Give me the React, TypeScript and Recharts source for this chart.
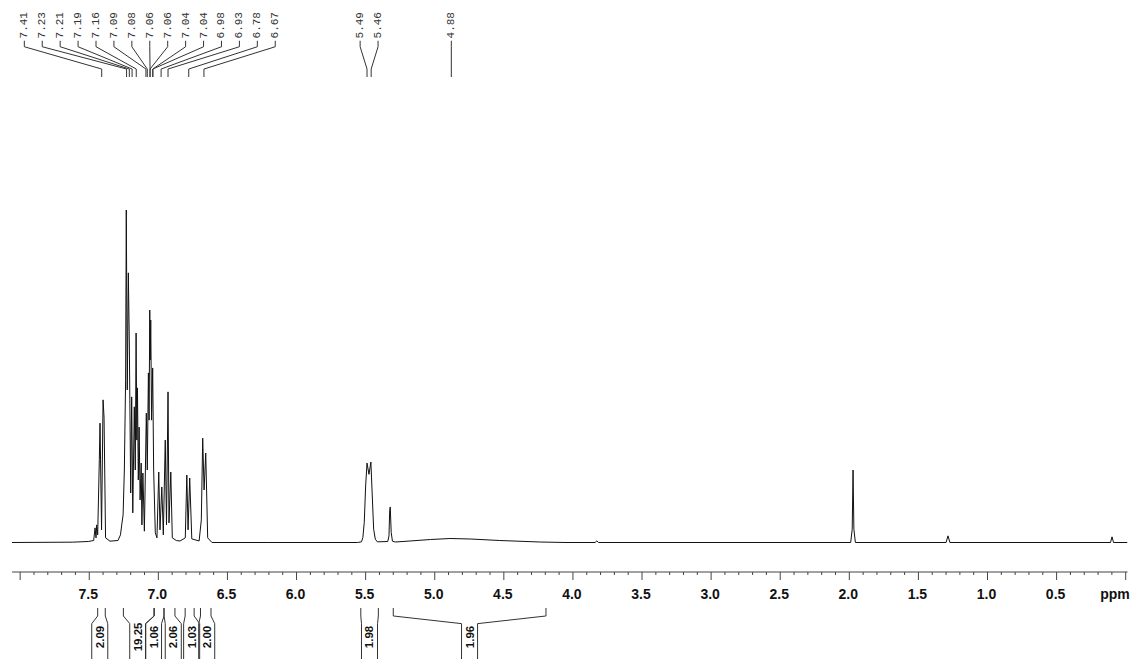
import { LineChart, Line, XAxis, YAxis, ReferenceLine, ReferenceDot } from 'recharts';

// 1H spectrum: [ppm, relative intensity] (tallest line = 100)
const aromatic: [number, number][] = [
  [8.059, 0], [7.62, 0.1], [7.508, 0.3], [7.468, 0.6], [7.458, 4.4], [7.451, 1.4],
  [7.446, 5.3], [7.439, 2.3], [7.427, 25.0], [7.422, 35.9], [7.411, 3.8], [7.4, 42.9],
  [7.393, 37.7], [7.382, 1.4], [7.35, 0.4], [7.292, 0.6], [7.274, 2.3], [7.265, 5.3],
  [7.255, 8.3], [7.246, 21.8], [7.237, 48.9], [7.232, 100], [7.225, 45.9], [7.217, 81.1],
  [7.21, 60.0], [7.2, 14.9], [7.193, 43.8], [7.185, 8.9], [7.174, 40.8], [7.167, 21.8],
  [7.161, 63.0], [7.156, 30.8], [7.151, 46.5], [7.145, 18.8], [7.139, 34.7], [7.132, 12.8],
  [7.124, 23.9], [7.119, 5.3], [7.112, 20.9], [7.101, 3.4], [7.087, 38.9], [7.08, 21.8],
  [7.072, 51.0], [7.067, 36.8], [7.062, 69.9], [7.059, 54.9], [7.055, 66.9], [7.049, 36.8],
  [7.041, 52.5], [7.034, 21.8], [7.022, 2.9], [7.01, 1.4], [6.997, 21.2], [6.988, 3.8],
  [6.975, 16.7], [6.964, 2.3], [6.95, 30.8], [6.941, 5.3], [6.93, 45.3], [6.923, 5.9],
  [6.91, 21.2], [6.899, 1.4], [6.87, 0.6], [6.843, 0.45], [6.805, 1.4], [6.794, 20.3],
  [6.785, 3.8], [6.773, 19.4], [6.758, 1.1], [6.705, 0.45], [6.689, 6.8], [6.679, 31.4],
  [6.669, 15.8], [6.657, 26.9], [6.643, 1.4], [6.612, 0],
];

const olefinic: [number, number][] = [
  [6.2, 0], [5.56, 0], [5.53, 0.2], [5.52, 1.5], [5.51, 6.0], [5.5, 17.0], [5.49, 23.9],
  [5.476, 20.5], [5.462, 24.2], [5.452, 14.0], [5.442, 4.0], [5.43, 1.0], [5.415, 0.2],
  [5.34, 0.3], [5.331, 2.0], [5.326, 9.5], [5.322, 10.7], [5.315, 3.0], [5.306, 0.4],
];

const broad: [number, number][] = [
  [5.286, 0.15], [5.18, 0.45], [5.03, 0.9], [4.89, 1.2], [4.74, 1.05], [4.53, 0.6],
  [4.24, 0.15], [4.05, 0],
];

const upfield: [number, number][] = [
  [3.84, 0], [3.827, 0.5], [3.815, 0], [1.99, 0], [1.979, 4.0], [1.973, 21.8], [1.967, 4.0],
  [1.956, 0], [1.3, 0], [1.286, 2.0], [1.272, 0], [0.11, 0], [0.099, 1.7], [0.088, 0],
  [-0.013, 0],
];

const spectrum = [...aromatic, ...olefinic, ...broad, ...upfield].map(([ppm, intensity]) => ({
  ppm,
  intensity,
}));

// peak picking, one array per fan of labels
const aromaticPeaks = [7.41, 7.23, 7.21, 7.19, 7.16, 7.09, 7.08, 7.06, 7.06, 7.04, 7.04, 6.98, 6.93, 6.78, 6.67];
const olefinicPeaks = [5.49, 5.46];
const broadPeaks = [4.88];

// integrals
const integralFrom = [7.439, 7.253, 7.029, 6.959, 6.806, 6.695, 5.535, 5.3];
const integralTo = [7.384, 7.032, 6.959, 6.88, 6.741, 6.619, 5.408, 4.195];
const integralValues = ['2.09', '19.25', '1.06', '2.06', '1.03', '2.00', '1.98', '1.96'];
const integralLabelAt = [7.424, 7.149, 7.035, 6.892, 6.759, 6.65, 5.472, 4.748];

const majorTickLabels = ['7.5', '7.0', '6.5', '6.0', '5.5', '5.0', '4.5', '4.0', '3.5', '3.0', '2.5', '2.0', '1.5', '1.0', '0.5'];

// layout
const W = 1133;
const H = 659;
const X_DOMAIN: [number, number] = [-0.013, 8.059];
const Y_DOMAIN: [number, number] = [-8.872, 163.16];
const LABEL_STEP = 0.1297; // ppm between neighbouring peak labels
const BOX_HALF = 0.058; // half width of an integral box, ppm

// heights in intensity units for the annotations
const LABEL_FOOT = 151.6;
const LEAD_TOP = 150.9;
const LEAD_KNEE = 149.1;
const LEAD_ELBOW = 142.4;
const LEAD_END = 140.0;
const INT_TOP = -19.7;
const INT_KNEE = -22.1;
const INT_BOX = -24.4;
const INT_BOTTOM = -35.5;
const INT_TEXT = -28.4;

const ticks = Array.from({ length: 81 }, (_, i) => +(i * 0.1).toFixed(1));

const PpmTick = (props: any) => {
  const { x, y, payload } = props;
  const v = +Number(payload.value).toFixed(1);
  const major = Math.abs(v * 2 - Math.round(v * 2)) < 1e-6;
  const label = v === 0 ? 'ppm' : majorTickLabels.includes(v.toFixed(1)) ? v.toFixed(1) : null;
  return (
    <g>
      <line x1={x} x2={x} y1={y} y2={y + (major ? 8 : 3)} stroke="#444" strokeWidth={1} />
      {label && (
        <text
          x={v === 0 ? x + 4 : x - 1}
          y={y + 26.5}
          textAnchor={v === 0 ? 'end' : 'middle'}
          fontFamily="'Liberation Sans', Arial, sans-serif"
          fontWeight="bold"
          fontSize={14}
          fill="#111"
        >
          {label}
        </text>
      )}
    </g>
  );
};

const slotsFor = (peaks: number[]) => {
  const mean = peaks.reduce((s, p) => s + p, 0) / peaks.length;
  return peaks.map((_, i) => mean + ((peaks.length - 1) / 2 - i) * LABEL_STEP);
};

const peakLabels = [aromaticPeaks, olefinicPeaks, broadPeaks].flatMap((group) => {
  const slots = slotsFor(group);
  return group.map((ppm, i) => ({ ppm, slot: slots[i], text: ppm.toFixed(2) }));
});

const seg = (x1: number, y1: number, x2: number, y2: number) => [
  { x: x1, y: y1 },
  { x: x2, y: y2 },
];

export default function App() {
  return (
    <div style={{ position: 'absolute', left: 0, top: 0, background: '#fff' }}>
      <LineChart
        width={W}
        height={H}
        data={spectrum}
        margin={{ top: 0, right: 5.5, left: 12, bottom: 0 }}
      >
        <XAxis
          type="number"
          dataKey="ppm"
          domain={X_DOMAIN}
          reversed
          allowDataOverflow
          ticks={ticks}
          interval={0}
          tickSize={0}
          tickMargin={0}
          tickLine={false}
          axisLine={{ stroke: '#444' }}
          tick={(p: any) => <PpmTick {...p} />}
          height={87}
        />
        <YAxis hide type="number" domain={Y_DOMAIN} allowDataOverflow />

        {/* peak labels */}
        {peakLabels.map((pk, i) => (
          <ReferenceDot
            key={`pl${i}`}
            x={pk.slot}
            y={LABEL_FOOT}
            r={0}
            ifOverflow="visible"
            shape={(p: any) => (
              <text
                x={p.cx}
                y={p.cy}
                transform={`rotate(-90 ${p.cx} ${p.cy})`}
                textAnchor="start"
                dominantBaseline="central"
                fontFamily="'Liberation Mono', 'DejaVu Sans Mono', monospace"
                fontSize={11}
                fill="#333"
              >
                {pk.text}
              </text>
            )}
          />
        ))}
        {peakLabels.map((pk, i) => (
          <ReferenceLine key={`pa${i}`} segment={seg(pk.slot, LEAD_TOP, pk.slot, LEAD_KNEE)} stroke="#333" ifOverflow="visible" />
        ))}
        {peakLabels.map((pk, i) => (
          <ReferenceLine key={`pb${i}`} segment={seg(pk.slot, LEAD_KNEE, pk.ppm, LEAD_ELBOW)} stroke="#333" ifOverflow="visible" />
        ))}
        {peakLabels.map((pk, i) => (
          <ReferenceLine key={`pc${i}`} segment={seg(pk.ppm, LEAD_ELBOW, pk.ppm, LEAD_END)} stroke="#333" ifOverflow="visible" />
        ))}

        {/* integrals under the axis */}
        {integralValues.flatMap((val, i) => {
          const a = integralFrom[i];
          const b = integralTo[i];
          const c = integralLabelAt[i];
          const parts = [
            seg(a, INT_TOP, a, INT_KNEE),
            seg(a, INT_KNEE, c + BOX_HALF, INT_BOX),
            seg(c + BOX_HALF, INT_BOX, c + BOX_HALF, INT_BOTTOM),
            seg(b, INT_TOP, b, INT_KNEE),
            seg(b, INT_KNEE, c - BOX_HALF, INT_BOX),
            seg(c - BOX_HALF, INT_BOX, c - BOX_HALF, INT_BOTTOM),
          ];
          return [
            ...parts.map((s, j) => (
              <ReferenceLine key={`i${i}-${j}`} segment={s} stroke="#333" ifOverflow="visible" />
            )),
            <ReferenceDot
              key={`it${i}`}
              x={c}
              y={INT_TEXT}
              r={0}
              ifOverflow="visible"
              shape={(p: any) => (
                <text
                  x={p.cx}
                  y={p.cy}
                  transform={`rotate(-90 ${p.cx} ${p.cy})`}
                  textAnchor="middle"
                  dominantBaseline="central"
                  fontFamily="'Liberation Sans', Arial, sans-serif"
                  fontWeight="bold"
                  fontSize={11.5}
                  fill="#111"
                >
                  {val}
                </text>
              )}
            />,
          ];
        })}

        <Line
          type="linear"
          dataKey="intensity"
          stroke="#111"
          strokeWidth={1}
          dot={false}
          activeDot={false}
          isAnimationActive={false}
        />
      </LineChart>
    </div>
  );
}
